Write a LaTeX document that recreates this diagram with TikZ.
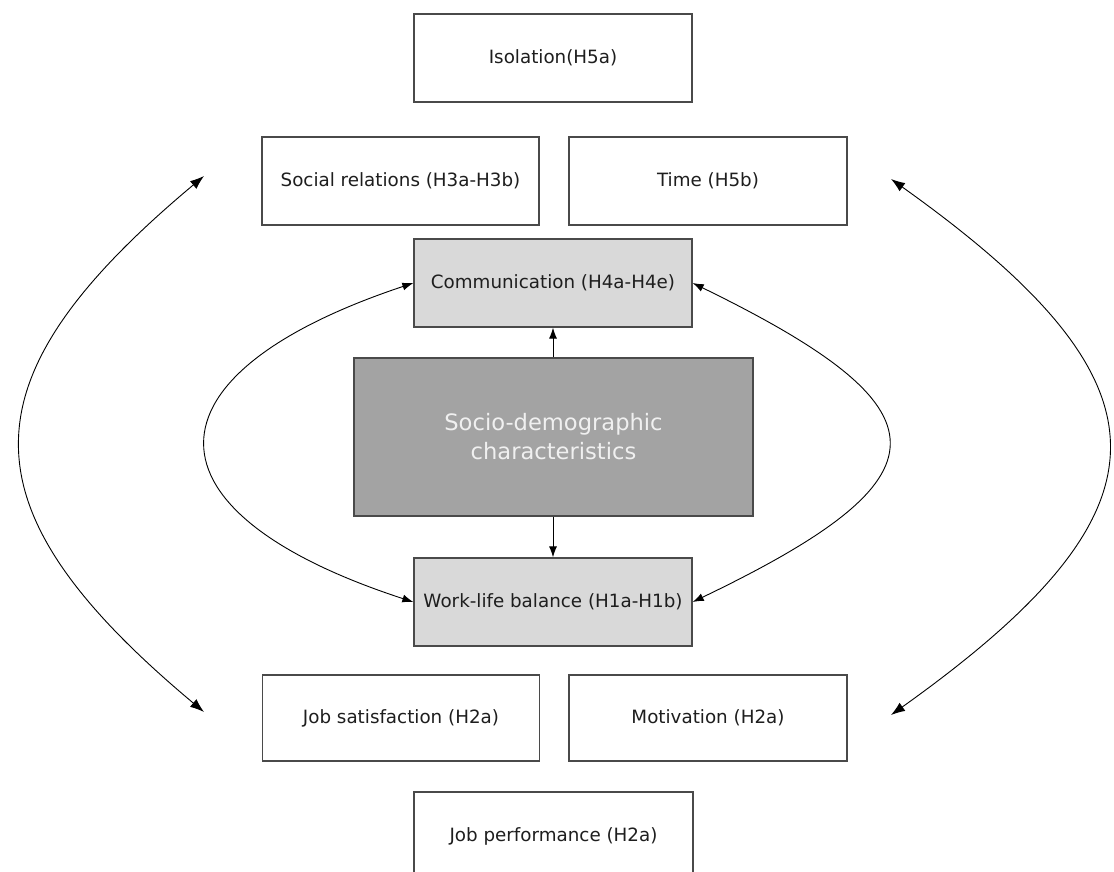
\documentclass[tikz,border=0pt]{standalone}
\usepackage{fontspec}
\setmainfont{DejaVu Sans}
\usetikzlibrary{arrows.meta}
\definecolor{boxline}{HTML}{4A4A4A}
\definecolor{lightfill}{HTML}{D9D9D9}
\definecolor{darkfill}{HTML}{A3A3A3}
\definecolor{txt}{HTML}{1E1E1E}
\begin{document}
\begin{tikzpicture}[x=1pt,y=-1pt,
  box/.style={draw=boxline, line width=1.3pt, fill=white, rectangle, inner sep=0pt,
    minimum width=278pt, minimum height=88pt, text=txt,
    font=\fontsize{18.3}{21}\selectfont},
  shaded/.style={box, fill=lightfill},
  core/.style={box, fill=darkfill, minimum width=399pt, minimum height=158pt,
    text=white!94!black, align=center, font=\fontsize{22.6}{29}\selectfont},
  link/.style={draw=black, line width=0.9pt,
    {Latex[length=11pt,width=8pt]}-{Latex[length=11pt,width=8pt]}},
  biglink/.style={draw=black, line width=0.9pt,
    {Latex[length=14pt,width=10pt]}-{Latex[length=14pt,width=10pt]}},
  feed/.style={draw=black, line width=0.9pt, -{Latex[length=11pt,width=8pt]}}
]
\useasboundingbox (0,0) rectangle (1114,872);

% outcome boxes, top and bottom rows
\node[box] (iso)    at (553,58)    {Isolation(H5a)};
\node[box, minimum width=277pt] (soc) at (400.5,181) {Social relations (H3a-H3b)};
\node[box] (time)   at (708,181)   {Time (H5b)};
\node[box, minimum width=277pt, minimum height=86pt] (jobsat) at (401,718) {Job satisfaction (H2a)};
\node[box, minimum height=86pt] (motiv) at (708,718) {Motivation (H2a)};
\node[box, minimum width=279pt] (perf) at (553.5,836) {Job performance (H2a)};

% mediating boxes and the central block
\node[shaded] (comm) at (553,283) {Communication (H4a-H4e)};
\node[core]   (socio) at (553.5,437) {Socio-demographic\\characteristics};
\node[shaded] (wlb)  at (553,602) {Work-life balance (H1a-H1b)};

% direct effects of the central block
\draw[feed] (socio.north -| comm.south) -- (comm.south);
\draw[feed] (socio.south -| wlb.north) -- (wlb.north);

% inner loops between communication and work-life balance
\draw[link] (comm.west) .. controls (137,375) and (137,512) .. (wlb.west);
\draw[link] (comm.east) .. controls (953,410) and (953,477) .. (wlb.east);

% outer loops between the top and bottom rows
\coordinate (lt) at (204,176);
\coordinate (lb) at (204,712);
\coordinate (rt) at (891,179);
\coordinate (rb) at (891,715);
\draw[biglink] (lt) .. controls (-40,380) and (-40,508) .. (lb);
\draw[biglink] (rt) .. controls (1180,385) and (1180,509) .. (rb);
\end{tikzpicture}
\end{document}
